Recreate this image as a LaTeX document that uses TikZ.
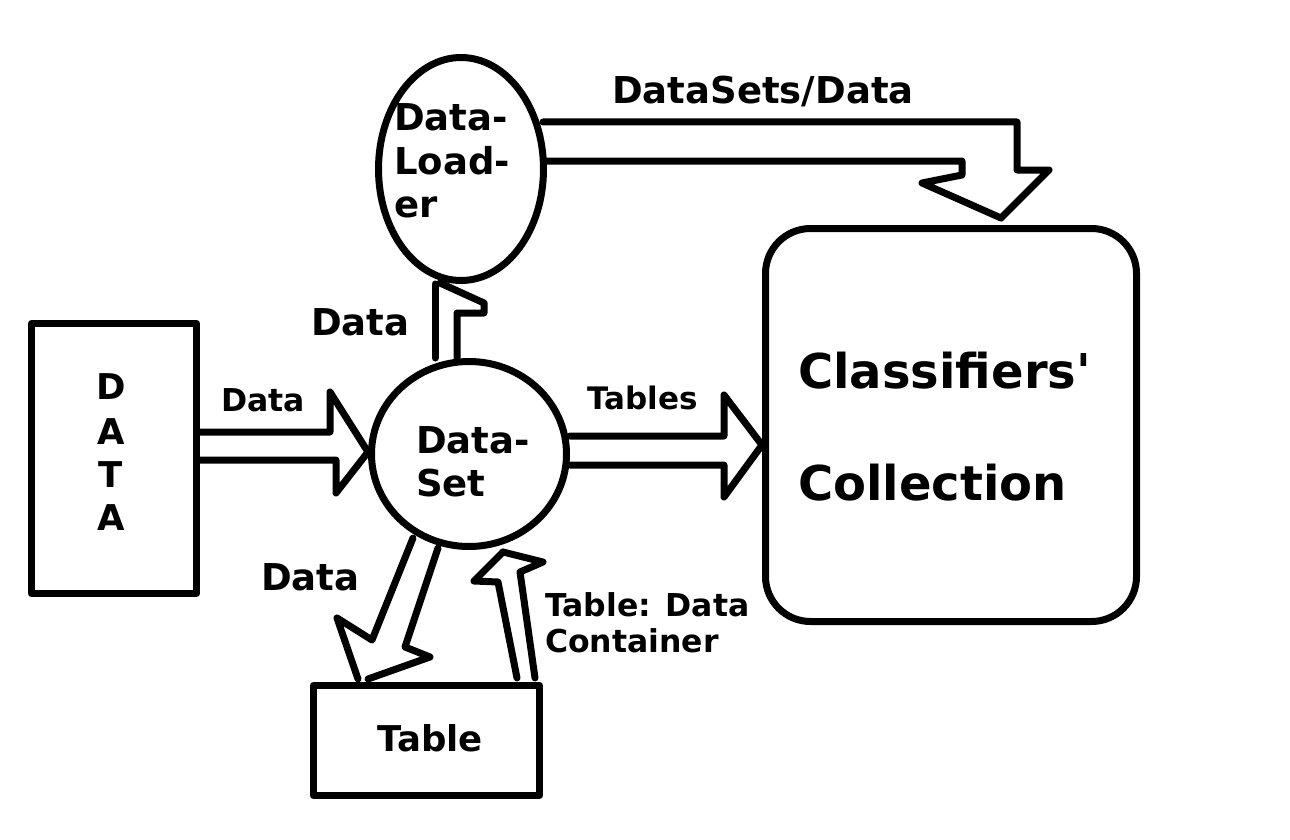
\documentclass[tikz,border=0pt]{standalone}
\usepackage{fontspec}
\setmainfont{DejaVu Sans}
\newfontfamily\plaindv{DejaVu Sans}
\usetikzlibrary{shapes.geometric}
\begin{document}
\begin{tikzpicture}[x=1pt,y=-1pt,
  lw/.style={line width=7pt,line join=round,line cap=round},
  box/.style={draw,lw,rectangle,inner sep=0pt},
  oval/.style={draw,lw,ellipse,inner sep=0pt},
  barrow/.style={lw},
  lab/.style={font=\bfseries,anchor=base west,inner sep=0pt},
  f36/.style={font=\fontsize{37}{41}\selectfont\bfseries},
  f31/.style={font=\fontsize{31.5}{35}\selectfont\bfseries},
  f30/.style={font=\fontsize{31}{34}\selectfont\bfseries},
  f47/.style={font=\fontsize{48}{52}\selectfont\bfseries},
  f35/.style={font=\fontsize{35.5}{39}\selectfont\bfseries}]
\useasboundingbox[fill=white] (0,0) rectangle (1290,840);

% main nodes
\node[box,minimum width=165pt,minimum height=270pt] (data) at (114,458.5) {};
\node[oval,minimum width=165pt,minimum height=223pt] (loader) at (461,169) {};
\node[oval,minimum width=195pt,minimum height=185pt] (dset) at (469,454) {};
\node[box,minimum width=226pt,minimum height=110pt] (table) at (426.5,740.5) {};
\node[box,rounded corners=45pt,minimum width=371pt,minimum height=393pt] (coll) at (951,425) {};

% texts inside nodes
\node[lab,f35,anchor=base] (d1) at (111,399) {D};
\node[lab,f35,anchor=base] (d2) at (111,444) {A};
\node[lab,f35,anchor=base] (d3) at (111,487) {T};
\node[lab,f35,anchor=base] (d4) at (111,530) {A};
\node[lab,f36] (l1) at (394,131) {Data-};
\node[lab,f36] (l2) at (394,174) {Load-};
\node[lab,f36] (l3) at (394,217) {er};
\node[lab,f36] (s1) at (416,453) {Data-};
\node[lab,f36] (s2) at (416,496) {Set};
\node[lab,f35,anchor=base] (t1) at (430,751) {Table};
\node[lab,f47] (c1) at (798,388) {Classifiers{\plaindv\bfseries '}};
\node[lab,f47] (c2) at (798,500) {Collection};

% connector labels
\node[lab,f36] (lbtop) at (612,104) {DataSets/Data};
\node[lab,f36] (lbup) at (311,335) {Data};
\node[lab,f31] (lbin) at (221,411) {Data};
\node[lab,f30] (lbtab) at (587,409) {Tables};
\node[lab,f36] (lbdown) at (261,590) {Data};
\node[lab,f31] (lbc1) at (545,616) {Table: Data};
\node[lab,f31] (lbc2) at (545,652) {Container};

% block arrows
% DATA -> Data-Set
\draw[barrow] (200,432) -- (330,432) -- (330,392) -- (368,452) -- (336,493) -- (336,460) -- (200,460);
% Data-Set -> Classifiers
\draw[barrow] (570,436) -- (724,436) -- (724,395) -- (762,445) -- (724,497) -- (724,465) -- (570,465);
% Data-Set -> Data-Loader
\draw[barrow] (435,358) -- (435,284);
\draw[barrow] (440,283) -- (484,303) -- (484,313) -- (457,313) -- (457,358);
% Data-Loader -> Classifiers
\draw[barrow] (543,122) -- (1017,122) -- (1017,170) -- (1049,170) -- (1001,218);
\draw[barrow] (547,161) -- (962,161) -- (962,175) -- (922,183) -- (1001,218);
% Data-Set -> Table
\draw[barrow] (413,538) -- (372,640) -- (337,618) -- (358,679);
\draw[barrow] (438,548) -- (405,647) -- (430,657) -- (368,679);
% Table -> Data-Set
\draw[barrow] (517,678) -- (498,582) -- (474,581) -- (503,552);
\draw[barrow] (535,678) -- (520,572) -- (543,562) -- (503,552);
\end{tikzpicture}
\end{document}
